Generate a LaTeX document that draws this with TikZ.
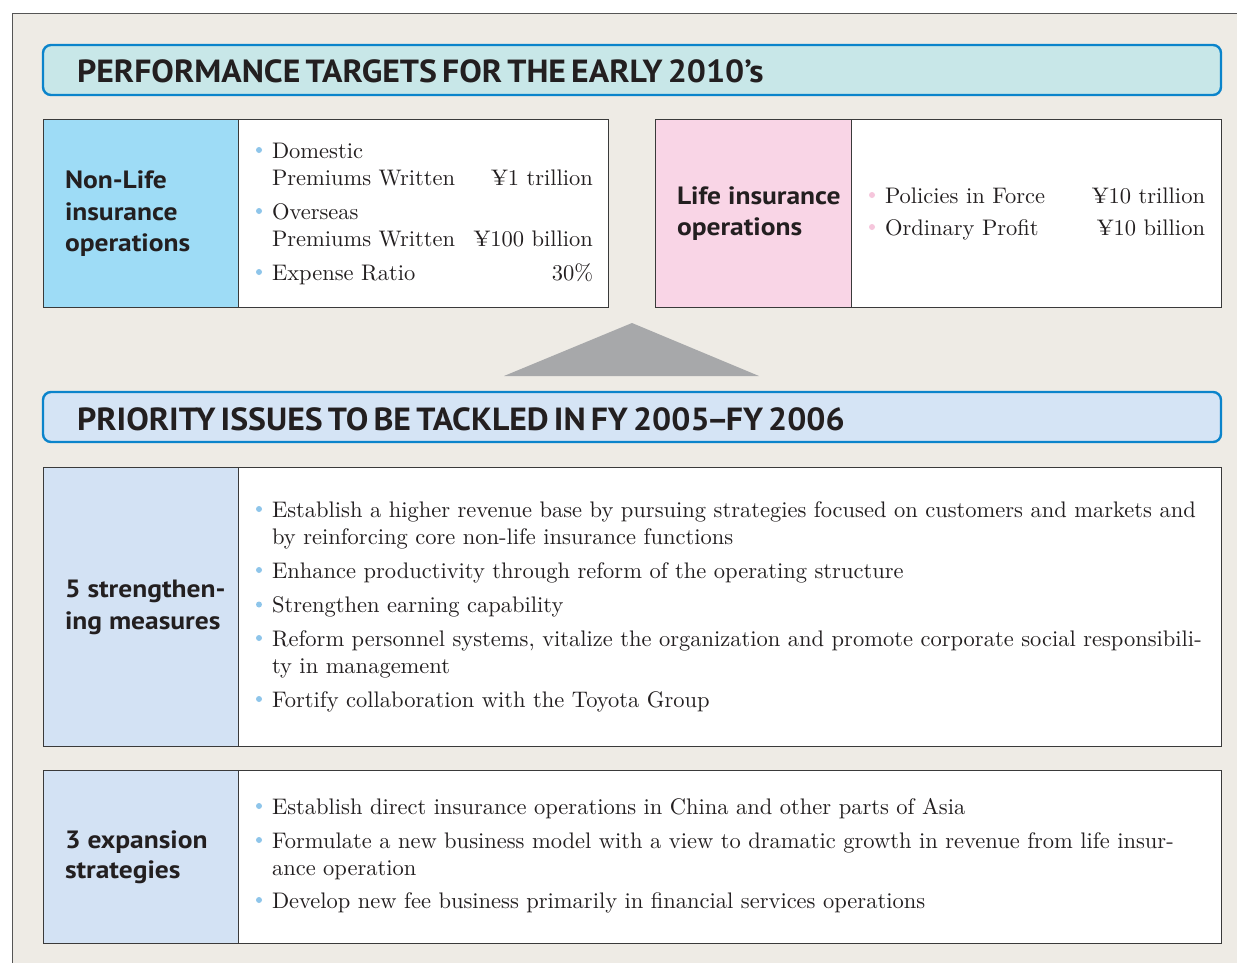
\documentclass[tikz,border=0pt]{standalone}
\usepackage{fontspec}
\newfontfamily\bodyfont{lmroman10-regular.otf}
\newfontfamily\hdfont{PT Sans}[FakeStretch=1.1]
\newfontfamily\ttlfont{PT Sans}[FakeStretch=1.055,WordSpace=0.6]
\definecolor{bg}{HTML}{EEEBE5}
\definecolor{frame}{HTML}{555555}
\definecolor{tblue}{HTML}{0B84CB}
\definecolor{tone}{HTML}{C8E7E8}
\definecolor{ttwo}{HTML}{D5E4F5}
\definecolor{nlblue}{HTML}{9EDCF6}
\definecolor{lpink}{HTML}{F9D5E6}
\definecolor{lowblue}{HTML}{D3E2F4}
\definecolor{tri}{HTML}{A7A8AA}
\definecolor{ink}{HTML}{231F20}
\definecolor{dotblue}{HTML}{8EC5EA}
\definecolor{dotpink}{HTML}{F6C6DC}
\definecolor{celline}{HTML}{3A3A3A}
\tikzset{
  every node/.style={inner sep=0pt, outer sep=0pt, text=ink},
  cell/.style={draw=celline, line width=1pt, anchor=north west, rectangle},
  titlebox/.style={draw=tblue, line width=2.4pt, rounded corners=8pt, anchor=north west, rectangle,
    minimum width=1178pt, minimum height=50pt},
  ttltext/.style={anchor=base west, font=\ttlfont\bfseries\fontsize{32}{36}\selectfont},
  lbl/.style={anchor=base west, font=\hdfont\bfseries\fontsize{25}{30}\selectfont},
  body/.style={anchor=base west, font=\bodyfont\fontsize{22.5}{27}\selectfont},
  val/.style={anchor=base east, font=\bodyfont\fontsize{22.5}{27}\selectfont},
  bdot/.style={circle, minimum size=6pt, fill=#1},
}
\begin{document}
\begin{tikzpicture}[x=1pt,y=-1pt]
\useasboundingbox (0,0) rectangle (1237,962);
% outer panel
\fill[bg] (12,13) rectangle (1245,970);
\draw[frame, line width=1pt] (12,970) -- (12,13) -- (1245,13);

% title 1
\node[titlebox, fill=tone] (t1) at (43,45) {};
\node[ttltext] (t1txt) at (77,82.5) {PERFORMANCE TARGETS FOR THE EARLY 2010’s};

% non-life
\node[cell, fill=nlblue, minimum width=195pt, minimum height=188pt] (nlL) at (43,119) {};
\node[cell, fill=white, minimum width=370pt, minimum height=188pt] (nlR) at (238,119) {};
\node[lbl] (nl1) at (65,188) {Non-Life};
\node[lbl] (nl2) at (65,220.5) {insurance};
\node[lbl] (nl3) at (65,251.5) {operations};
\node[bdot=dotblue] (nd1) at (259,150) {};
\node[body] (nb1) at (272,158) {Domestic};
\node[body] (nb1b) at (272,185) {Premiums Written};
\node[val] (nv1) at (593,185) {¥1 trillion};
\node[bdot=dotblue] (nd2) at (259,211) {};
\node[body] (nb2) at (272,219) {Overseas};
\node[body] (nb2b) at (272,246) {Premiums Written};
\node[val] (nv2) at (593,246) {¥100 billion};
\node[bdot=dotblue] (nd3) at (259,272) {};
\node[body] (nb3) at (272,280) {Expense Ratio};
\node[val] (nv3) at (593,280) {30\%};

% life
\node[cell, fill=lpink, minimum width=196pt, minimum height=188pt] (lfL) at (655,119) {};
\node[cell, fill=white, minimum width=370pt, minimum height=188pt] (lfR) at (851,119) {};
\node[lbl] (lf1) at (677,204) {Life insurance};
\node[lbl] (lf2) at (677,235) {operations};
\node[bdot=dotpink] (ld1) at (872,195) {};
\node[body] (lb1) at (885,203) {Policies in Force};
\node[val] (lv1) at (1205,203) {¥10 trillion};
\node[bdot=dotpink] (ld2) at (872,227) {};
\node[body] (lb2) at (885,235) {Ordinary Profit};
\node[val] (lv2) at (1205,235) {¥10 billion};

% triangle
\fill[tri] (504,376) -- (632,323) -- (759,376) -- cycle;

% title 2
\node[titlebox, fill=ttwo] (t2) at (43,392) {};
\node[ttltext] (t2txt) at (77,430) {PRIORITY ISSUES TO BE TACKLED IN FY 2005\kern-3pt–\kern-3pt FY 2006};

% strengthening
\node[cell, fill=lowblue, minimum width=195pt, minimum height=279pt] (sL) at (43,467) {};
\node[cell, fill=white, minimum width=983pt, minimum height=279pt] (sR) at (238,467) {};
\node[lbl] (s1) at (65,597) {5 strengthen-};
\node[lbl] (s2) at (65,629) {ing measures};
\node[bdot=dotblue] (sd1) at (259,509) {};
\node[body] (sb1) at (272,517) {Establish a higher revenue base by pursuing strategies focused on customers and markets and};
\node[body] (sb1b) at (272,544) {by reinforcing core non-life insurance functions};
\node[bdot=dotblue] (sd2) at (259,570) {};
\node[body] (sb2) at (272,578) {Enhance productivity through reform of the operating structure};
\node[bdot=dotblue] (sd3) at (259,604.5) {};
\node[body] (sb3) at (272,612.5) {Strengthen earning capability};
\node[bdot=dotblue] (sd4) at (259,638) {};
\node[body] (sb4) at (272,646) {Reform personnel systems, vitalize the organization and promote corporate social responsibili-};
\node[body] (sb4b) at (272,673) {ty in management};
\node[bdot=dotblue] (sd5) at (259,699) {};
\node[body] (sb5) at (272,707) {Fortify collaboration with the Toyota Group};

% expansion
\node[cell, fill=lowblue, minimum width=195pt, minimum height=173pt] (eL) at (43,770) {};
\node[cell, fill=white, minimum width=983pt, minimum height=173pt] (eR) at (238,770) {};
\node[lbl] (e1) at (65,848) {3 expansion};
\node[lbl] (e2) at (65,878) {strategies};
\node[bdot=dotblue] (ed1) at (259,806) {};
\node[body] (eb1) at (272,814) {Establish direct insurance operations in China and other parts of Asia};
\node[bdot=dotblue] (ed2) at (259,840) {};
\node[body] (eb2) at (272,848) {Formulate a new business model with a view to dramatic growth in revenue from life insur-};
\node[body] (eb2b) at (272,875) {ance operation};
\node[bdot=dotblue] (ed3) at (259,900) {};
\node[body] (eb3) at (272,908) {Develop new fee business primarily in financial services operations};
\end{tikzpicture}
\end{document}
